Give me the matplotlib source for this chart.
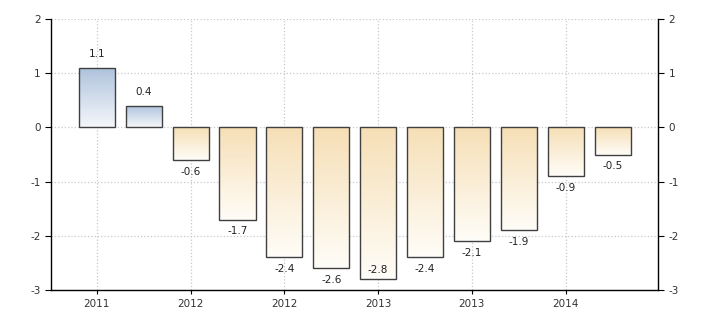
import numpy as np
import matplotlib
matplotlib.use("Agg")
import matplotlib.pyplot as plt
from matplotlib.colors import LinearSegmentedColormap

plt.rcParams['axes.unicode_minus'] = False

########################################
#   Data
########################################

values = [1.1, 0.4, -0.6, -1.7, -2.4, -2.6, -2.8, -2.4, -2.1, -1.9, -0.9, -0.5]
tickLabels = ["2011", "2012", "2012", "2013", "2013", "2014"]
tickIndex = [0, 2, 4, 6, 8, 10]
yTicks = [2, 1, 0, -1, -2, -3]

blueMap = LinearSegmentedColormap.from_list("blue", ["#f4f7fb", "#aec2dc"])
orangeMap = LinearSegmentedColormap.from_list("orange", ["#fffdf8", "#f6dfb6"])

########################################
#   Plot
########################################

fig = plt.figure(figsize=(7.1, 3.25), dpi=100)
ax = fig.add_axes([0.0718, 0.1077, 0.855, 0.8338])

x = np.arange(len(values))
bars = ax.bar(x, values, width=0.77, facecolor="none", edgecolor="#404040",
              linewidth=1.0, zorder=3)

grad = np.linspace(0, 1, 256).reshape(-1, 1)
for bar, v in zip(bars, values):
    x0, y0 = bar.get_x(), min(0, v)
    w, h = bar.get_width(), abs(v)
    cmap = blueMap if v > 0 else orangeMap
    im = ax.imshow(grad, cmap=cmap, aspect="auto", origin="lower",
                   extent=(x0, x0 + w, y0, y0 + h), zorder=2)
    im.set_clip_path(bar)
    cx = bar.get_x() + w / 2
    if v > 0:
        ax.annotate("{}".format(v), (cx, v), xytext=(0, 6),
                    textcoords="offset points", ha="center", va="bottom",
                    fontsize=7.5, color="#222222", zorder=4)
    elif v < -2.7:
        # no room under the bar, put it inside
        ax.annotate("{}".format(v), (cx, v), xytext=(0, 3),
                    textcoords="offset points", ha="center", va="bottom",
                    fontsize=7.5, color="#222222", zorder=4)
    else:
        ax.annotate("{}".format(v), (cx, v), xytext=(0, -5),
                    textcoords="offset points", ha="center", va="top",
                    fontsize=7.5, color="#222222", zorder=4)

ax.set_xlim(-0.98, 11.97)
ax.set_ylim(-3, 2)
ax.set_xticks(tickIndex)
ax.set_xticklabels(tickLabels)
ax.set_yticks(yTicks)

ax.grid(True, linestyle=":", color="#c8c8c8", linewidth=0.9, zorder=0)
ax.set_axisbelow(True)

ax.spines["top"].set_visible(False)
for s in ["left", "right", "bottom"]:
    ax.spines[s].set_color("black")
    ax.spines[s].set_linewidth(1.0)

ax.tick_params(axis="y", which="both", left=True, right=True, labelleft=True,
               labelright=True, length=4, labelsize=7.5, colors="black",
               labelcolor="#333333")
ax.tick_params(axis="x", length=3, labelsize=7.5, labelcolor="#333333")

plt.savefig("out.png", dpi=100)
